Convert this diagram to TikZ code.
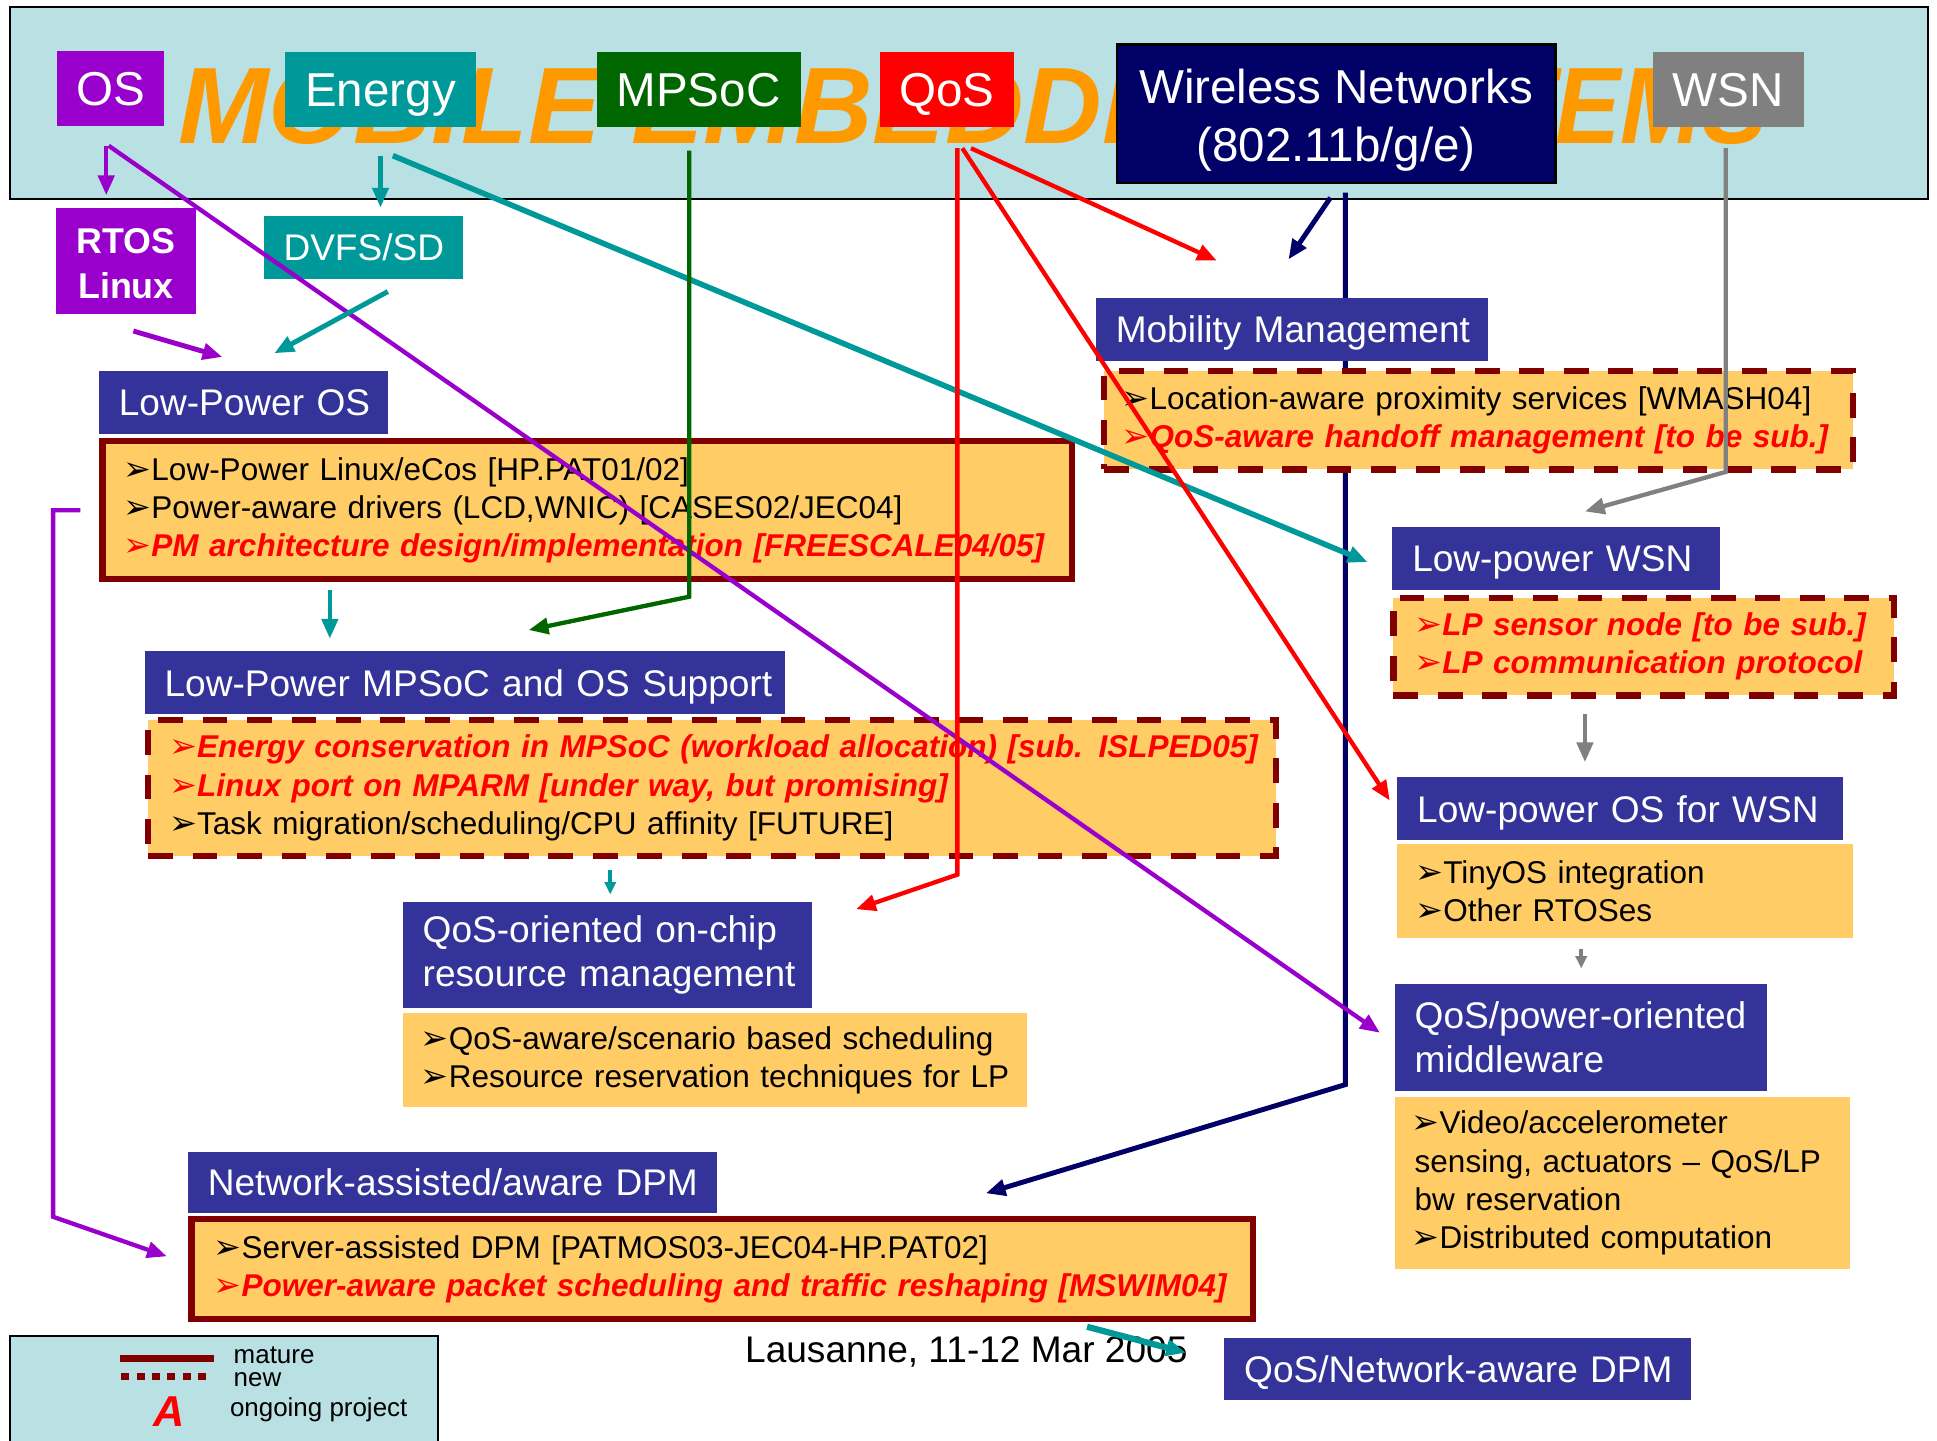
\documentclass[tikz,border=0pt]{standalone}
\usepackage{fontspec}
\setmainfont{Liberation Sans}
\newfontfamily\dingfont{DejaVu Sans}
\usetikzlibrary{arrows.meta,calc}

\definecolor{band}{HTML}{B9E0E3}
\definecolor{titleorange}{HTML}{FF9900}
\definecolor{ospurple}{HTML}{9900CC}
\definecolor{enteal}{HTML}{009999}
\definecolor{mpgreen}{HTML}{006600}
\definecolor{qosred}{HTML}{FF0000}
\definecolor{wnavy}{HTML}{000066}
\definecolor{wsngray}{HTML}{808080}
\definecolor{hdrblue}{HTML}{333399}
\definecolor{bodyfill}{HTML}{FFCC66}
\definecolor{darkred}{HTML}{800000}

\newcommand{\titlefont}{\fontsize{88}{88}\selectfont\bfseries\itshape}
\newcommand{\tagfont}{\fontsize{38.5}{47}\selectfont}
\newcommand{\hdrfont}{\fontsize{30}{36}\selectfont}
\newcommand{\rtosfont}{\fontsize{29}{36}\selectfont\bfseries}
\newcommand{\itmfont}{\fontsize{25.5}{31}\selectfont}
\newcommand{\legfont}{\fontsize{21}{21}\selectfont}

% arrowhead bullet and unbreakable item lines
\newcommand{\bul}{{\dingfont\fontsize{27}{27}\selectfont\hspace*{-2.5pt}\symbol{"27A2}}}
\newcommand{\ib}[1]{\mbox{\bul#1}}
\newcommand{\rb}[1]{\mbox{\color{qosred}\bfseries\itshape\bul#1}}
\newcommand{\oneline}[1]{\mbox{#1}}

\tikzset{
  tag/.style={minimum height=61pt, inner sep=0pt, text=white, font=\tagfont},
  hdr/.style={fill=hdrblue, text=white, font=\hdrfont, anchor=north west,
    align=left, inner xsep=16pt, inner ysep=0pt},
  onehdr/.style={hdr, text height=21.5pt, text depth=0pt},
  body/.style={fill=bodyfill, font=\itmfont, anchor=north west, align=left,
    inner ysep=0pt},
  matureedge/.style={draw=darkred, line width=5pt},
  newedge/.style={draw=darkred, line width=5pt, dash pattern=on 20pt off 16pt},
  link/.style={line width=3.5pt, line join=miter,
    -{Triangle[length=16pt,width=13pt]}},
  smalllink/.style={line width=3pt, -{Triangle[length=10pt,width=9pt]}},
  titletext/.style={anchor=base west, inner sep=0pt, text=titleorange, font=\titlefont},
}

\begin{document}
\begin{tikzpicture}[x=1pt,y=-1pt]
\useasboundingbox (0,0) rectangle (1568,1166);

% ---- banner with the research areas ----
\node[draw=black, line width=1.5pt, fill=band, anchor=north west,
  minimum width=1553pt, minimum height=155pt, inner sep=0pt] (banner) at (7,5) {};
\node[titletext] (title) at (144,116) {MOBILE EMBEDDED};
\node[titletext, xscale=0.9] (title2) at (1052,116) {SYSTEMS};

\node[tag, fill=ospurple, minimum width=87pt, text height=27.6pt, text depth=0pt] (os) at (89.5,71.5) {OS};
\node[tag, fill=enteal, minimum width=154pt, text height=27.6pt, text depth=0pt] (energy) at (308,72.5) {Energy};
\node[tag, fill=mpgreen, minimum width=165pt, text height=27.6pt, text depth=0pt] (mpsoc) at (565.5,72.5) {MPSoC};
\node[tag, fill=qosred, minimum width=109pt, text height=27.6pt, text depth=0pt] (qos) at (766.5,72.5) {QoS};
\node[tag, fill=wnavy, draw=black, line width=2pt, minimum width=355pt,
  minimum height=112pt, align=center] (wireless) at (1081.5,92)
  {\rule{0pt}{38pt}Wireless Networks\\(802.11b/g/e)};
\node[tag, fill=wsngray, minimum width=122pt, text height=27.6pt, text depth=0pt] (wsn) at (1399,72.5) {WSN};

% ---- connector end points ----
\coordinate (wl-a) at (1077,160);
\coordinate (wl-b) at (1089,156);
\coordinate (wl-c) at (1089,878);
\coordinate (nad-in) at (798,966);
\coordinate (mob-in2) at (1043,210);

% wireless links run underneath the boxes
\draw[link, draw=wnavy, line width=4pt] (wl-a) -- (mob-in2);
\draw[link, draw=wnavy, line width=4pt] (wl-b) -- (wl-c) -- (nad-in);

% ---- small category boxes ----
\node[fill=ospurple, text=white, font=\rtosfont, align=center,
  minimum width=114pt, minimum height=86pt, inner sep=0pt] (rtos) at (102,211) {\rule{0pt}{25pt}RTOS\\Linux};
\node[fill=enteal, text=white, font=\hdrfont, minimum width=161pt,
  minimum height=51pt, inner sep=0pt, text height=21.5pt, text depth=0pt] (dvfs) at (294.5,200.5) {DVFS/SD};

% ---- Low-Power OS ----
\node[onehdr, text width=202pt, minimum height=51pt] (lposH) at (80,300) {\oneline{Low-Power OS}};
\node[body, matureedge, inner xsep=19.5pt, text width=746pt, minimum height=112pt]
  (lposB) at (80.5,354.5)
  {\ib{Low-Power Linux/eCos [HP.PAT01/02]}\\
   \ib{Power-aware drivers (LCD,WNIC) [CASES02/JEC04]}\\
   \rb{PM architecture design/implementation [FREESCALE04/05]}};

% ---- Low-Power MPSoC and OS Support ----
\node[onehdr, text width=486pt, minimum height=51pt] (mpsH) at (117,527) {\oneline{Low-Power MPSoC and OS Support}};
\node[body, newedge, inner xsep=19.5pt, text width=874pt, minimum height=110pt]
  (mpsB) at (117.5,580.5)
  {\rb{Energy conservation in MPSoC (workload allocation) [sub. ISLPED05]}\\
   \rb{Linux port on MPARM [under way, but promising]}\\
   \ib{Task migration/scheduling/CPU affinity [FUTURE]}};

% ---- QoS-oriented on-chip resource management ----
\node[hdr, text width=299pt, minimum height=86pt] (qocH) at (326,730)
  {\oneline{QoS-oriented on-chip}\\\oneline{resource management}};
\node[body, inner xsep=17pt, text width=471pt, minimum height=76pt] (qocB) at (326,820)
  {\ib{QoS-aware/scenario based scheduling}\\
   \ib{Resource reservation techniques for LP}};

% ---- Network-assisted/aware DPM ----
\node[onehdr, text width=396pt, minimum height=50pt] (nadH) at (152,932) {\oneline{Network-assisted/aware DPM}};
\node[body, matureedge, inner xsep=20.5pt, text width=818pt, minimum height=81pt]
  (nadB) at (152.5,984.5)
  {\ib{Server-assisted DPM [PATMOS03-JEC04-HP.PAT02]}\\
   \rb{Power-aware packet scheduling and traffic reshaping [MSWIM04]}};

% ---- Mobility Management ----
\node[onehdr, text width=285pt, minimum height=51pt] (mobH) at (887,241) {\oneline{Mobility Management}};
\node[body, newedge, inner xsep=16.5pt, text width=573pt, minimum height=80pt]
  (mobB) at (891.5,297.5)
  {\ib{Location-aware proximity services [WMASH04]}\\
   \rb{QoS-aware handoff management [to be sub.]}};

% ---- Low-power WSN ----
\node[onehdr, text width=233pt, minimum height=51pt] (wsnH) at (1127,426) {\oneline{Low-power WSN}};
\node[body, newedge, inner xsep=19.5pt, text width=366pt, minimum height=79pt]
  (wsnB) at (1125.5,481.5)
  {\rb{LP sensor node [to be sub.]}\\
   \rb{LP communication protocol}};

% ---- Low-power OS for WSN ----
\node[onehdr, text width=329pt, minimum height=51pt] (oswH) at (1131,629) {\oneline{Low-power OS for WSN}};
\node[body, inner xsep=17pt, text width=335pt, minimum height=76pt] (oswB) at (1131,683)
  {\ib{TinyOS integration}\\
   \ib{Other RTOSes}};

% ---- QoS/power-oriented middleware ----
\node[hdr, text width=269pt, minimum height=87pt] (mwH) at (1129,796)
  {\oneline{QoS/power-oriented}\\\oneline{middleware}};
\node[body, inner xsep=16pt, text width=336pt, minimum height=139pt] (mwB) at (1129,888)
  {\ib{Video/accelerometer}\\
   \oneline{sensing, actuators – QoS/LP}\\
   \oneline{bw reservation}\\
   \ib{Distributed computation}};

% ---- QoS/Network-aware DPM ----
\node[onehdr, text width=346pt, minimum height=50pt] (qndH) at (991,1083) {\oneline{QoS/Network-aware DPM}};

% ---- date line ----
\node[anchor=base west, inner sep=0pt, font=\hdrfont] (date) at (603,1103) {Lausanne, 11-12 Mar 2005};

% ---- legend ----
\node[draw=black, line width=1.5pt, fill=band, anchor=north west,
  minimum width=347pt, minimum height=92pt, inner sep=0pt] (legend) at (7,1081) {};
\draw[darkred, line width=5.5pt] (97,1100) -- (173,1100);
\draw[darkred, line width=6pt, dash pattern=on 6.5pt off 6pt] (98,1114.5) -- (171,1114.5);
\node[anchor=base west, inner sep=0pt, font=\legfont] (lmature) at (189,1104) {mature};
\node[anchor=base west, inner sep=0pt, font=\legfont] (lnew) at (189,1122) {new};
\node[anchor=base west, inner sep=0pt, text=qosred,
  font=\fontsize{35}{35}\selectfont\bfseries\itshape] (lA) at (124,1155) {A};
\node[anchor=base west, inner sep=0pt, font=\legfont] (lgo) at (186,1147) {ongoing project};

% ---- connector points ----
\coordinate (os-a) at (86,118);
\coordinate (rtos-in) at (86,158);
\coordinate (os-b) at (88,118);
\coordinate (mw-in) at (1117,836);
\coordinate (rtos-out) at (108,268);
\coordinate (lpos-in1) at (180,289);
\coordinate (lpos-l) at (65,413);
\coordinate (lb-a) at (43,413);
\coordinate (lb-b) at (43,985);
\coordinate (nad-in2) at (135,1017);

\coordinate (en-a) at (308,126);
\coordinate (dvfs-in) at (308,168);
\coordinate (dvfs-out) at (314,236);
\coordinate (lpos-in2) at (222,286);
\coordinate (en-b) at (318,126);
\coordinate (wsn-in) at (1107,455);
\coordinate (lpos-out) at (267,478);
\coordinate (mps-in) at (267,517);
\coordinate (mps-out) at (494,704);
\coordinate (qoc-in) at (494,724);
\coordinate (nw-a) at (880,1074);
\coordinate (qnd-in) at (960,1095);

\coordinate (mp-a) at (558,122);
\coordinate (mp-b) at (558,483);
\coordinate (mps-in2) at (428,510);

\coordinate (q-a) at (775,120);
\coordinate (q-b) at (775,708);
\coordinate (qoc-in2) at (693,736);
\coordinate (q-c) at (786,120);
\coordinate (mob-in) at (985,211);
\coordinate (q-d) at (779,120);
\coordinate (osw-in) at (1125,648);

\coordinate (ws-a) at (1397,120);
\coordinate (ws-b) at (1397,382);
\coordinate (wsn-in2) at (1283,414);
\coordinate (wsn-out) at (1283,578);
\coordinate (osw-in2) at (1283,617);
\coordinate (osw-out) at (1280,768);
\coordinate (mw-in2) at (1280,784);

% ---- OS links ----
\draw[link, draw=ospurple] (os-a) -- (rtos-in);
\draw[link, draw=ospurple] (os-b) -- (mw-in);
\draw[link, draw=ospurple, line width=4pt] (rtos-out) -- (lpos-in1);
\draw[link, draw=ospurple] (lpos-l) -- (lb-a) -- (lb-b) -- (nad-in2);

% ---- energy links ----
\draw[link, draw=enteal] (en-a) -- (dvfs-in);
\draw[link, draw=enteal, line width=4pt] (dvfs-out) -- (lpos-in2);
\draw[link, draw=enteal, line width=4.5pt] (en-b) -- (wsn-in);
\draw[link, draw=enteal] (lpos-out) -- (mps-in);
\draw[smalllink, draw=enteal] (mps-out) -- (qoc-in);
\draw[link, draw=enteal, line width=5pt] (nw-a) -- (qnd-in);

% ---- MPSoC link ----
\draw[link, draw=mpgreen] (mp-a) -- (mp-b) -- (mps-in2);

% ---- QoS links ----
\draw[link, draw=qosred] (q-a) -- (q-b) -- (qoc-in2);
\draw[link, draw=qosred] (q-c) -- (mob-in);
\draw[link, draw=qosred] (q-d) -- (osw-in);

% ---- WSN links ----
\draw[link, draw=wsngray] (ws-a) -- (ws-b) -- (wsn-in2);
\draw[link, draw=wsngray] (wsn-out) -- (osw-in2);
\draw[smalllink, draw=wsngray] (osw-out) -- (mw-in2);
\end{tikzpicture}
\end{document}
